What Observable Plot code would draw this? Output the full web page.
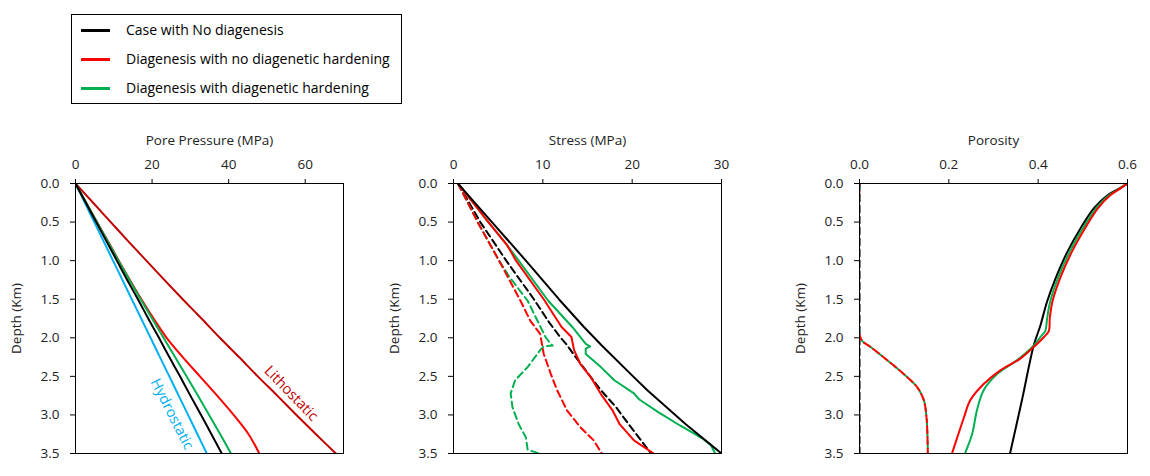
<!DOCTYPE html>
<html>
<head>
<meta charset="utf-8">
<script src="https://cdn.jsdelivr.net/npm/d3@7"></script>
<script src="https://cdn.jsdelivr.net/npm/@observablehq/plot@0.6"></script>
<style>
  body { margin: 0; background: #fff; font-family: "Open Sans", sans-serif; }
  #root { position: relative; width: 1150px; height: 476px; overflow: hidden; background: #fff; }
  .panel { position: absolute; top: 120px; }
  #legend { position: absolute; left: 71px; top: 14px; width: 331px; height: 90px; border: 1px solid #000; box-sizing: border-box; }
  .lg-row { position: absolute; left: 0; height: 20px; }
  .lg-swatch { position: absolute; left: 9px; width: 29px; height: 3px; }
  .lg-text { position: absolute; left: 54px; white-space: nowrap; font-size: 14px; color: #000; line-height: 20px; }
</style>
</head>
<body>
<div id="root">
  <div id="legend"></div>
</div>
<script>
// ---------- legend / series ----------
const seriesNames = ["Case with No diagenesis", "Diagenesis with no diagenetic hardening", "Diagenesis with diagenetic hardening"];
const seriesColors = ["#000000", "#FF0000", "#00B050"];
const hydroColor = "#00B0F0";
const lithoColor = "#C00000";

// ---------- Depth axis ----------
const depthTicks = [0, 0.5, 1.0, 1.5, 2.0, 2.5, 3.0, 3.5];

// ---------- Panel 1: Pore pressure (MPa) vs depth (km) ----------
const ppDepth        = [0, 0.25, 0.5, 0.75, 1.0, 1.25, 1.5, 1.75, 2.0, 2.25, 2.5, 2.75, 3.0, 3.25, 3.5];
const ppHydrostatic  = [0, 2.45, 4.9, 7.35, 9.8, 12.25, 14.7, 17.15, 19.6, 22.05, 24.5, 26.95, 29.4, 31.85, 34.3];
const ppLithostatic  = [0, 4.6, 9.2, 13.8, 18.5, 23.2, 28.0, 32.9, 37.7, 42.7, 47.6, 52.7, 57.7, 62.8, 68.0];
const ppNoDiagenesis = [0, 2.7, 5.4, 8.1, 10.8, 13.5, 16.3, 19.0, 21.8, 24.5, 27.3, 30.0, 32.8, 35.5, 38.2];
const ppDiagNoHard   = [0, 2.8, 5.6, 8.5, 11.3, 14.2, 17.2, 20.4, 23.8, 28.0, 32.5, 37.0, 41.3, 45.2, 48.0];
const ppDiagHard     = [0, 2.8, 5.6, 8.4, 11.2, 14.1, 17.0, 20.0, 23.0, 26.0, 29.0, 32.0, 34.9, 37.8, 40.6];
const ppTicks = [0, 20, 40, 60];
const ppLabels = [
  {text: "Hydrostatic", value: 25.2, depth: 2.99},
  {text: "Lithostatic", value: 56.3, depth: 2.72}
];

// ---------- Panel 2: Stress (MPa) vs depth, [depth, stress] ----------
const stNoDiagSolid = [[0,0.5],[0.25,2.4],[0.5,4.3],[1.0,8.1],[1.5,11.8],[1.86,14.6],[2.1,16.6],[2.5,20.1],[2.68,21.7],[3.12,26.0],[3.5,30.0]];
const stNoHardSolid = [[0,0.5],[0.5,3.9],[0.8,6.0],[1.0,7.0],[1.5,10.1],[1.86,12.1],[1.99,13.2],[2.16,13.5],[2.34,14.2],[2.5,15.3],[2.73,16.5],[2.94,17.8],[3.12,18.6],[3.33,20.2],[3.5,22.4]];
const stHardSolid   = [[0,0.5],[0.5,3.9],[0.8,6.0],[1.0,7.3],[1.52,10.6],[1.86,13.3],[2.08,14.8],[2.11,15.3],[2.14,14.8],[2.21,14.8],[2.38,16.5],[2.55,18.0],[2.72,20.2],[2.80,20.8],[2.97,23.0],[3.14,25.4],[3.30,27.8],[3.39,28.8],[3.5,29.3]];
const stNoDiagDash  = [[0,0.5],[0.5,3.0],[1.0,5.9],[1.5,9.0],[1.8,10.7],[2.0,12.0],[2.08,12.6],[2.3,14.0],[2.5,15.3],[2.68,16.5],[2.9,18.2],[3.12,19.6],[3.3,20.8],[3.5,22.1]];
const stNoHardDash  = [[0,0.5],[0.5,2.7],[1.0,5.1],[1.52,7.5],[1.78,8.6],[1.95,9.7],[2.08,9.9],[2.21,10.1],[2.47,10.9],[2.68,11.6],[2.94,12.7],[3.16,14.2],[3.33,15.7],[3.5,16.6]];
const stHardDash    = [[0,0.5],[0.5,2.7],[1.0,5.1],[1.2,6.2],[1.52,8.3],[1.78,9.4],[1.99,10.3],[2.07,10.8],[2.10,11.1],[2.11,10.1],[2.16,9.7],[2.38,8.3],[2.55,6.9],[2.72,6.4],[2.90,6.6],[3.12,7.3],[3.29,8.1],[3.45,8.3],[3.5,9.6]];
const stTicks = [0, 10, 20, 30];

// ---------- Panel 3: Porosity vs depth, [depth, porosity] ----------
const phNoDiagSolid = [[0,0.6],[0.08,0.577],[0.15,0.556],[0.32,0.525],[0.58,0.495],[0.89,0.465],[1.23,0.439],[1.53,0.42],[1.84,0.405],[2.1,0.39],[2.8,0.364],[3.5,0.337]];
const phNoHardSolid = [[0,0.6],[0.08,0.58],[0.15,0.562],[0.32,0.534],[0.58,0.505],[0.89,0.475],[1.23,0.449],[1.53,0.432],[1.75,0.426],[1.91,0.424],[1.99,0.413],[2.12,0.39],[2.27,0.36],[2.42,0.316],[2.60,0.278],[2.81,0.248],[3.03,0.234],[3.29,0.219],[3.5,0.207]];
const phHardSolid   = [[0,0.6],[0.08,0.579],[0.15,0.559],[0.32,0.53],[0.58,0.5],[0.89,0.47],[1.23,0.444],[1.53,0.427],[1.75,0.42],[1.91,0.416],[1.99,0.405],[2.12,0.387],[2.29,0.353],[2.47,0.308],[2.68,0.278],[2.94,0.263],[3.25,0.252],[3.5,0.236]];
const phNoDiagDash  = [[0,0],[3.5,0]];
const phNoHardDash  = [[0,0],[1.95,0],[2.04,0.006],[2.12,0.025],[2.29,0.062],[2.47,0.099],[2.64,0.129],[2.81,0.144],[3.03,0.15],[3.25,0.152],[3.5,0.153]];
const phHardDash    = [[0,0],[1.95,0],[2.04,0.006],[2.12,0.025],[2.29,0.062],[2.47,0.099],[2.64,0.129],[2.81,0.144],[3.03,0.15],[3.25,0.152],[3.5,0.153]];
const phTicks = [0, 0.2, 0.4, 0.6];

// ---------- helpers ----------
const FONT = "Open Sans";
const DASH = "7,4";
const pairsFrom = (depths, values) => depths.map((d, i) => [d, values[i]]);

function lineMark(data, color, {dashed = false, offset = 0, curve = "linear"} = {}) {
  return Plot.line(data, {
    x: d => d[1], y: d => d[0],
    stroke: color, strokeWidth: 2,
    strokeDasharray: dashed ? DASH : undefined,
    strokeDashoffset: offset,
    curve,
    clip: true
  });
}

function makePanel({left, marginLeft, width, xDomain, xTicks, xFormat, xLabel, marks}) {
  const svg = Plot.plot({
    width, height: 356,
    marginLeft, marginRight: width - marginLeft - 268, marginTop: 63, marginBottom: 23,
    style: {fontFamily: FONT, background: "#fff", color: "#000", overflow: "visible"},
    x: {domain: xDomain},
    y: {domain: [0, 3.5], reverse: true},
    marks: [
      ...marks,
      Plot.frame({stroke: "#000", strokeWidth: 1}),
      Plot.axisX({anchor: "top", ticks: xTicks, tickFormat: xFormat, tickSize: 5, tickPadding: 10,
        fontSize: 13.5, fill: "#222", label: xLabel, labelAnchor: "center", labelOffset: 48, labelArrow: "none"}),
      Plot.axisY({anchor: "left", ticks: depthTicks, tickFormat: d3.format(".1f"), tickSize: 5, tickPadding: 11,
        fontSize: 13.5, fill: "#222", label: "Depth (Km)", labelAnchor: "center", labelOffset: 64, labelArrow: "none"})
    ]
  });
  svg.classList.add("panel");
  svg.style.left = left + "px";
  document.getElementById("root").appendChild(svg);
}

const smooth = {curve: "catmull-rom"};

// ---------- Panel 1 ----------
makePanel({
  left: 0, marginLeft: 75, width: 362,
  xDomain: [0, 70], xTicks: ppTicks, xFormat: d3.format("d"), xLabel: "Pore Pressure (MPa)",
  marks: [
    lineMark(pairsFrom(ppDepth, ppLithostatic), lithoColor, smooth),
    lineMark(pairsFrom(ppDepth, ppHydrostatic), hydroColor, smooth),
    lineMark(pairsFrom(ppDepth, ppDiagNoHard), seriesColors[1], smooth),
    lineMark(pairsFrom(ppDepth, ppDiagHard), seriesColors[2], smooth),
    lineMark(pairsFrom(ppDepth, ppNoDiagenesis), seriesColors[0], smooth),
    Plot.text([ppLabels[0]], {x: "value", y: "depth", text: "text", rotate: 63, fill: hydroColor, fontSize: 14.5, fontFamily: FONT}),
    Plot.text([ppLabels[1]], {x: "value", y: "depth", text: "text", rotate: 46, fill: lithoColor, fontSize: 14.5, fontFamily: FONT})
  ]
});

// ---------- Panel 2 ----------
makePanel({
  left: 380, marginLeft: 73, width: 360,
  xDomain: [0, 30], xTicks: stTicks, xFormat: d3.format("d"), xLabel: "Stress (MPa)",
  marks: [
    lineMark(stNoDiagDash, seriesColors[0], {dashed: true}),
    lineMark(stHardDash, seriesColors[2], {dashed: true}),
    lineMark(stNoHardDash, seriesColors[1], {dashed: true}),
    lineMark(stHardSolid, seriesColors[2]),
    lineMark(stNoHardSolid, seriesColors[1]),
    lineMark(stNoDiagSolid, seriesColors[0])
  ]
});

// ---------- Panel 3 ----------
makePanel({
  left: 780, marginLeft: 79, width: 370,
  xDomain: [0, 0.6], xTicks: phTicks, xFormat: d3.format(".1f"), xLabel: "Porosity",
  marks: [
    lineMark(phNoDiagDash, seriesColors[0], {dashed: true}),
    lineMark(phHardDash, seriesColors[2], {dashed: true, curve: "catmull-rom"}),
    lineMark(phNoHardDash, seriesColors[1], {dashed: true, offset: 4, curve: "catmull-rom"}),
    lineMark(phNoDiagSolid, seriesColors[0], smooth),
    lineMark(phHardSolid, seriesColors[2], smooth),
    lineMark(phNoHardSolid, seriesColors[1], smooth)
  ]
});

// ---------- Legend ----------
const legend = document.getElementById("legend");
seriesNames.forEach((name, i) => {
  const row = document.createElement("div");
  row.className = "lg-row";
  row.style.top = (5 + i * 29) + "px";
  const sw = document.createElement("div");
  sw.className = "lg-swatch";
  sw.style.background = seriesColors[i];
  sw.style.top = "8.5px";
  const tx = document.createElement("div");
  tx.className = "lg-text";
  tx.textContent = name;
  tx.style.top = "0px";
  row.appendChild(sw);
  row.appendChild(tx);
  legend.appendChild(row);
});
</script>
</body>
</html>
